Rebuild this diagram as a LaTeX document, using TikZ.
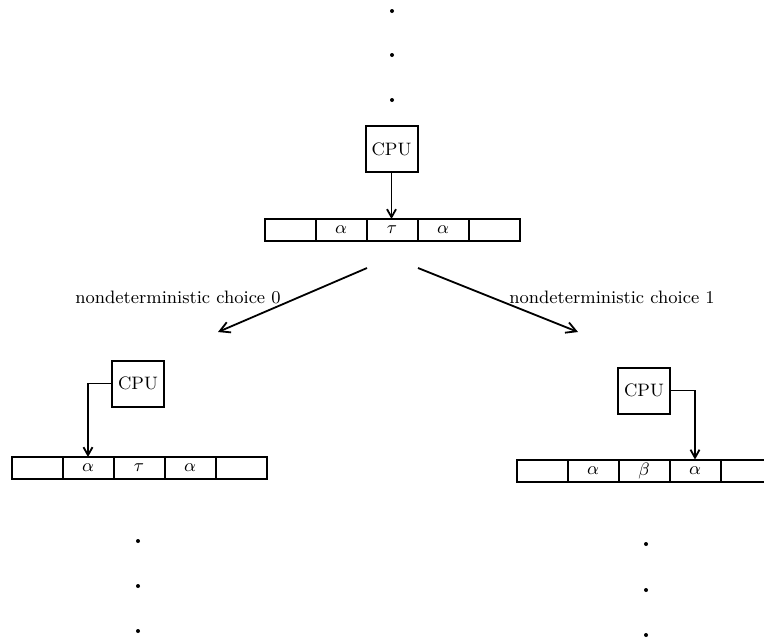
\documentclass[tikz,border=0pt]{standalone}
\usepackage{tikz}
\usetikzlibrary{arrows.meta,positioning}
\tikzset{
  cpubox/.style={draw,line width=1pt,minimum width=26pt,minimum height=23pt,
                 inner sep=1pt,outer sep=0pt,font=\small},
  cell/.style={draw,line width=1pt,minimum width=25.5pt,minimum height=11pt,
               inner sep=0pt,outer sep=0pt,font=\small},
  headarr/.style={-{Straight Barb[length=4pt,width=4.5pt]},line width=0.9pt},
  choicearr/.style={-{Straight Barb[length=5pt,width=5.5pt]},line width=0.9pt},
  choicelab/.style={font=\small,inner sep=1pt}
}

\begin{document}
\begin{tikzpicture}[x=0.5pt,y=-0.5pt]
  \useasboundingbox (0,0) rectangle (764,639);
  \clip (0,0) rectangle (764,639);
  % ---- dots above the start state ----
  \foreach \y in {11,55,100} \fill (392,\y) circle (2);
  % ---- start state ----
  \node[cpubox] (cpu0) at (391.5,149) {CPU};
  \node[cell] (t1) at (290,230) {};
  \node[cell,right=0pt of t1] (t2) {$\alpha$};
  \node[cell,right=0pt of t2] (t3) {$\tau$};
  \node[cell,right=0pt of t3] (t4) {$\alpha$};
  \node[cell,right=0pt of t4] (t5) {};
  \draw[headarr] (cpu0.south) -- (cpu0.south |- t3.north);
  % ---- the two choices ----
  \coordinate (from0) at (367,268);
  \coordinate (to0) at (218,332);
  \coordinate (from1) at (418,268);
  \coordinate (to1) at (578,332);
  \draw[choicearr] (from0) -- (to0);
  \draw[choicearr] (from1) -- (to1);
  \node[choicelab] (lab0) at (178,297) {nondeterministic choice 0};
  \node[choicelab] (lab1) at (612,297) {nondeterministic choice 1};
  % ---- choice 0: head moves left ----
  \node[cpubox] (cpu1) at (138,383.5) {CPU};
  \node[cell] (l1) at (37,468) {};
  \node[cell,right=0pt of l1] (l2) {$\alpha$};
  \node[cell,right=0pt of l2] (l3) {$\tau$};
  \node[cell,right=0pt of l3] (l4) {$\alpha$};
  \node[cell,right=0pt of l4] (l5) {};
  \draw[headarr] (cpu1.west) -| (l2.north);
  % ---- choice 1: head moves right ----
  \node[cpubox] (cpu2) at (644,390.5) {CPU};
  \node[cell] (r1) at (542,470.5) {};
  \node[cell,right=0pt of r1] (r2) {$\alpha$};
  \node[cell,right=0pt of r2] (r3) {$\beta$};
  \node[cell,right=0pt of r3] (r4) {$\alpha$};
  \node[cell,right=0pt of r4] (r5) {};
  \draw[headarr] (cpu2.east) -| (r4.north);
  % ---- dots below ----
  \foreach \y in {541,586,631} \fill (138,\y) circle (2);
  \foreach \y in {544,590,635} \fill (646,\y) circle (2);
\end{tikzpicture}
\end{document}
